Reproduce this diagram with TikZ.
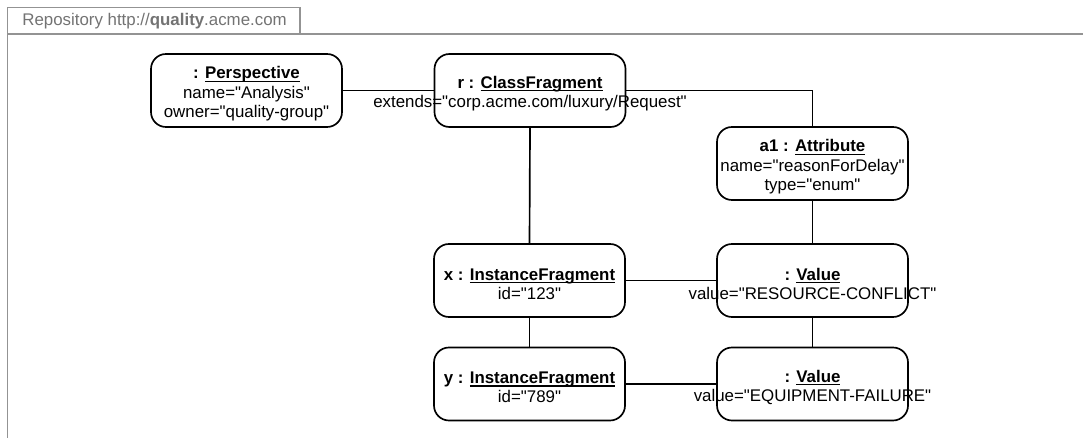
\documentclass[tikz,border=0pt]{standalone}
\usepackage{fontspec}
\setmainfont{Liberation Sans}[Ligatures=TeXOff]
\newlength\ulwd
\newcommand\ulname[1]{\settowidth\ulwd{#1}\rlap{\rule[-1.7pt]{\ulwd}{0.65pt}}#1}
\newcommand\objhead[2]{\rule{0pt}{10.6pt}\textbf{#1: \ulname{#2}}}
\begin{document}
\begin{tikzpicture}[
    obj/.style={draw, line width=0.95pt, rounded corners=0.3cm, minimum width=3.82cm, minimum height=1.46cm,
      inner sep=0pt, align=center, font=\fontsize{9.6}{11}\selectfont},
    conn/.style={line width=0.95pt},
    frm/.style={draw=gray!85, line width=0.9pt},
    tablbl/.style={font=\fontsize{9.6}{10.8}\selectfont, text=gray!90!black, anchor=west, inner sep=0pt},
  ]
    \useasboundingbox (0,0) rectangle (21.66,-8.76);

    % === Repository frame ===
    \draw[frm] (0.15,-8.76) -- (0.15,-0.15) -- (6.0,-0.15) -- (6.0,-0.68);
    \draw[frm] (0.15,-0.68) -- (21.66,-0.68);
    \node[tablbl] (repo) at (0.44,-0.42) {Repository http://\textbf{quality}.acme.com};

    % === Objects ===
    \node[obj] (persp) at (4.93,-1.81) {\objhead{}{Perspective}\\name="Analysis"\\owner="quality-group"};
    \node[obj] (cls) at (10.6,-1.81) {\objhead{r }{ClassFragment}\\\makebox[0pt]{extends="corp.acme.com/luxury/Request"}};
    \node[obj] (attr) at (16.25,-3.27) {\objhead{a1 }{Attribute}\\name="reasonForDelay"\\type="enum"};
    \node[obj] (instx) at (10.59,-5.61) {\objhead{x }{InstanceFragment}\\id="123"};
    \node[obj] (valrc) at (16.25,-5.61) {\objhead{}{Value}\\\makebox[0pt]{value="RESOURCE-CONFLICT"}};
    \node[obj] (insty) at (10.59,-7.68) {\objhead{y }{InstanceFragment}\\id="789"};
    \node[obj] (valef) at (16.25,-7.68) {\objhead{}{Value}\\\makebox[0pt]{value="EQUIPMENT-FAILURE"}};

    % === Links ===
    \draw[conn] (persp.east) -- (cls.west);
    \draw[conn] (cls.east) -| (attr.north);
    \draw[conn] (cls.south) -- (instx.north);
    \draw[conn] (attr.south) -- (valrc.north);
    \draw[conn] (instx.east) -- (valrc.west);
    \draw[conn] (instx.south) -- (insty.north);
    \draw[conn] (valrc.south) -- (valef.north);
    \draw[conn] (insty.east) -- (valef.west);
  \end{tikzpicture}
\end{document}
